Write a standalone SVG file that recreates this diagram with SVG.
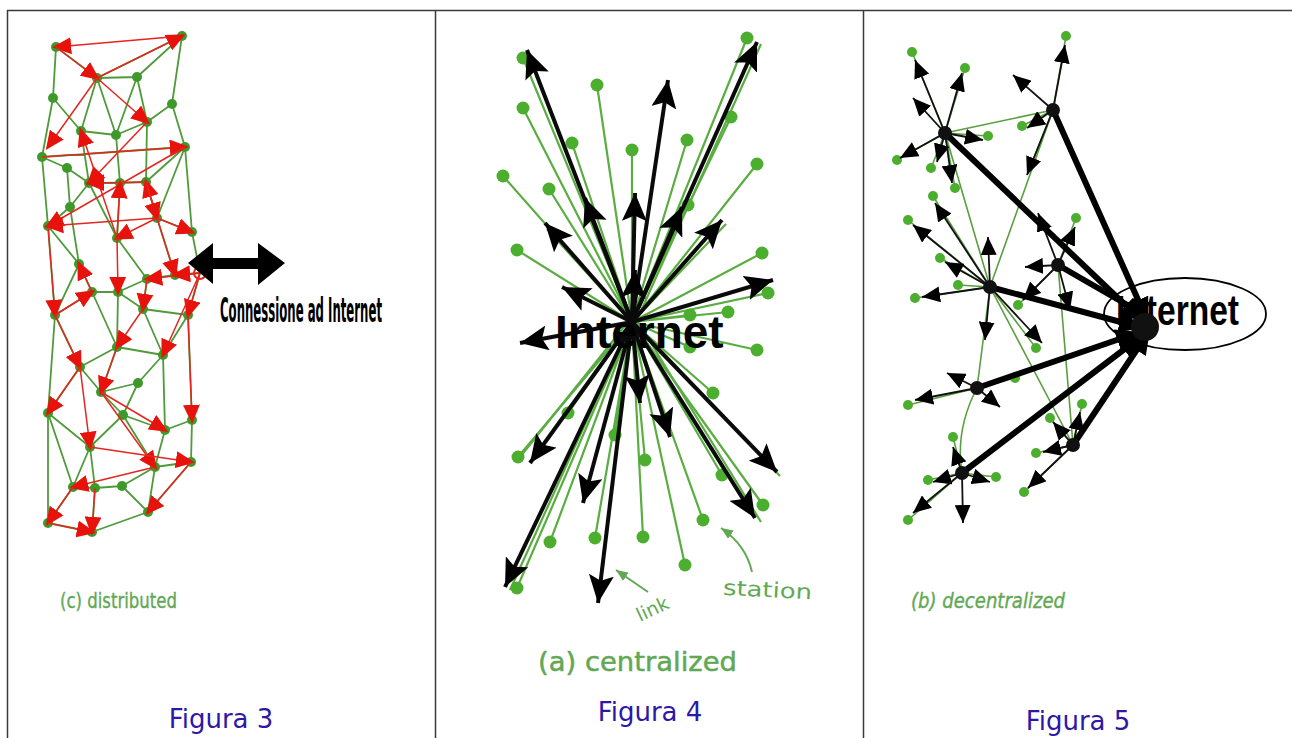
<svg xmlns="http://www.w3.org/2000/svg" width="1292" height="738" viewBox="0 0 1292 738">
<style>
.frame{stroke:#3a3a3a;stroke-width:1.5;fill:none}
.cap{font-family:"DejaVu Sans",Verdana,sans-serif;font-size:26px;fill:#2e18a6;text-anchor:middle}
.g1{stroke:#4f9a3a;stroke-width:1.8;fill:none}
.r1{stroke:#e3261f;stroke-width:1.5;fill:none;marker-end:url(#ar)}
.gn{fill:#3d9a2a}
.g2{stroke:#5aad40;stroke-width:2.2;fill:none}
.b2{stroke:#0a0a0a;stroke-width:4;fill:none;marker-end:url(#ab)}
.gn2{fill:#4cae2e}
.g3{stroke:#5a9e40;stroke-width:1.6;fill:none}
.b3{stroke:#111;stroke-width:1.8;fill:none;marker-end:url(#as)}
.t3{stroke:#000;stroke-width:6;fill:none;marker-end:url(#at)}
.hub{fill:#111}
.lbl{font-family:"DejaVu Sans",sans-serif;fill:#62a854}
.ptr{stroke:#62a854;stroke-width:2;fill:none;marker-end:url(#ag)}
</style>
<defs>
<marker id="ar" viewBox="0 0 10 10" refX="8" refY="5" markerWidth="19" markerHeight="17" markerUnits="userSpaceOnUse" orient="auto" preserveAspectRatio="none"><path d="M0,0L10,5L0,10z" fill="#e8120c"/></marker>
<marker id="ab" viewBox="0 0 10 10" refX="10" refY="5" markerWidth="28" markerHeight="25" markerUnits="userSpaceOnUse" orient="auto" preserveAspectRatio="none"><path d="M0,0L10,5L0,10L2,5z" fill="#000"/></marker>
<marker id="as" viewBox="0 0 10 10" refX="10" refY="5" markerWidth="18" markerHeight="16" markerUnits="userSpaceOnUse" orient="auto" preserveAspectRatio="none"><path d="M0,0L10,5L0,10z" fill="#000"/></marker>
<marker id="at" viewBox="0 0 10 10" refX="10" refY="5" markerWidth="24" markerHeight="22" markerUnits="userSpaceOnUse" orient="auto" preserveAspectRatio="none"><path d="M0,0L10,5L0,10z" fill="#000"/></marker>
<marker id="ag" viewBox="0 0 10 10" refX="10" refY="5" markerWidth="12" markerHeight="10" markerUnits="userSpaceOnUse" orient="auto" preserveAspectRatio="none"><path d="M0,0L10,5L0,10z" fill="#62a854"/></marker>
</defs>
<rect width="1292" height="738" fill="#fff"/>
<g id="table">
<path class="frame" d="M7 10.5H1292M7.5 10V738M435.5 10V738M863.5 10V738"/>
</g>

<g id="fig3">
<g id="fig3-links">
<path class="g1" d="M56 47L53 98M56 47L97 78M182 36L97 78M182 36L172 104M97 78L137 77M137 77L182 36M137 77L147 122M97 78L116 135M97 78L81 131M53 98L81 131M53 98L42 157M172 104L147 122M172 104L185 147M147 122L116 135M81 131L116 135M137 77L116 135M42 157L67 168M42 157L185 147M67 168L89 183M81 131L89 183M116 135L120 183M147 122L146 182M185 147L146 182M89 183L120 183M120 183L146 182M67 168L70 207M70 207L89 183M70 207L48 226M42 157L48 226M89 183L117 238M120 183L117 238M146 182L157 218M157 218L185 147M157 218L192 232M185 147L192 232M48 226L79 264M70 207L79 264M117 238L147 279M157 218L175 275M192 232L200 273M147 279L175 275M175 275L200 273M79 264L92 292M147 279L118 292M92 292L118 292M118 292L143 309M147 279L143 309M143 309L188 315M200 273L188 315M79 264L55 315M48 226L55 315M55 315L92 292M92 292L117 347M118 292L117 347M143 309L163 355M188 315L163 355M117 347L163 355M55 315L80 367M80 367L117 347M80 367L101 392M117 347L101 392M101 392L138 383M163 355L138 383M138 383L123 415M101 392L123 415M188 315L192 420M163 355L165 430M48 413L55 315M48 413L80 367M48 413L90 447M123 415L90 447M123 415L165 430M165 430L192 420M123 415L155 467M165 430L155 467M192 420L191 462M155 467L191 462M90 447L73 487M90 447L95 488M73 487L95 488M95 488L122 486M122 486L155 467M122 486L148 512M155 467L148 512M191 462L148 512M73 487L48 523M48 523L92 532M95 488L92 532M92 532L148 512M48 413L73 487M48 413L48 523"/>
</g>
<g id="fig3-nodes" class="gn">
<circle cx="56" cy="47" r="5"/><circle cx="182" cy="36" r="5"/><circle cx="97" cy="78" r="5"/><circle cx="137" cy="77" r="5"/><circle cx="53" cy="98" r="5"/><circle cx="172" cy="104" r="5"/><circle cx="147" cy="122" r="5"/><circle cx="81" cy="131" r="5"/><circle cx="116" cy="135" r="5"/><circle cx="42" cy="157" r="5"/><circle cx="185" cy="147" r="5"/><circle cx="67" cy="168" r="5"/><circle cx="89" cy="183" r="5"/><circle cx="120" cy="183" r="5"/><circle cx="146" cy="182" r="5"/><circle cx="70" cy="207" r="5"/><circle cx="48" cy="226" r="5"/><circle cx="117" cy="238" r="5"/><circle cx="157" cy="218" r="5"/><circle cx="192" cy="232" r="5"/><circle cx="79" cy="264" r="5"/><circle cx="147" cy="279" r="5"/><circle cx="175" cy="275" r="5"/><circle cx="92" cy="292" r="5"/><circle cx="118" cy="292" r="5"/><circle cx="143" cy="309" r="5"/><circle cx="55" cy="315" r="5"/><circle cx="188" cy="315" r="5"/><circle cx="117" cy="347" r="5"/><circle cx="163" cy="355" r="5"/><circle cx="80" cy="367" r="5"/><circle cx="101" cy="392" r="5"/><circle cx="138" cy="383" r="5"/><circle cx="48" cy="413" r="5"/><circle cx="123" cy="415" r="5"/><circle cx="165" cy="430" r="5"/><circle cx="192" cy="420" r="5"/><circle cx="90" cy="447" r="5"/><circle cx="155" cy="467" r="5"/><circle cx="191" cy="462" r="5"/><circle cx="73" cy="487" r="5"/><circle cx="95" cy="488" r="5"/><circle cx="122" cy="486" r="5"/><circle cx="148" cy="512" r="5"/><circle cx="48" cy="523" r="5"/><circle cx="92" cy="532" r="5"/>
</g>
<g id="fig3-arrows">
<path class="r1" d="M182 36L56 47"/><path class="r1" d="M97 78L182 36"/><path class="r1" d="M56 47L97 78"/><path class="r1" d="M97 78L147 122"/><path class="r1" d="M97 78L48 147"/><path class="r1" d="M42 157L185 147"/><path class="r1" d="M185 147L48 226"/><path class="r1" d="M117 238L81 131"/><path class="r1" d="M147 122L89 183"/><path class="r1" d="M117 238L120 183"/><path class="r1" d="M157 218L146 182"/><path class="r1" d="M146 182L89 183"/><path class="r1" d="M157 218L48 226"/><path class="r1" d="M157 218L117 238"/><path class="r1" d="M146 182L157 218"/><path class="r1" d="M157 218L192 232"/><path class="r1" d="M92 292L79 264"/><path class="r1" d="M200 273L147 279"/><path class="r1" d="M200 273L175 275"/><path class="r1" d="M157 218L175 275"/><path class="r1" d="M117 238L118 292"/><path class="r1" d="M147 279L143 309"/><path class="r1" d="M143 309L117 347"/><path class="r1" d="M48 226L55 315"/><path class="r1" d="M200 273L188 315"/><path class="r1" d="M200 273L163 355"/><path class="r1" d="M55 315L80 367"/><path class="r1" d="M117 347L101 392"/><path class="r1" d="M101 392L165 430"/><path class="r1" d="M188 315L192 420"/><path class="r1" d="M80 367L90 447"/><path class="r1" d="M101 392L155 467"/><path class="r1" d="M90 447L191 462"/><path class="r1" d="M155 467L73 487"/><path class="r1" d="M191 462L148 512"/><path class="r1" d="M73 487L48 523"/><path class="r1" d="M48 523L92 532"/><path class="r1" d="M95 488L92 532"/><path class="r1" d="M80 367L48 413"/><path class="r1" d="M55 315L92 292"/>
<circle cx="200" cy="273" r="6" fill="none" stroke="#e3261f" stroke-width="2"/>
</g>
<g id="internet-connection">
<path d="M188 263L213 243L213 258L258 258L258 243L285 263L258 285L258 269L213 269L213 284Z" fill="#000"/>
<text x="220" y="322" font-family="'DejaVu Sans Condensed','DejaVu Sans',sans-serif" font-weight="bold" font-size="33" textLength="162" lengthAdjust="spacingAndGlyphs" fill="#000">Connessione ad Internet</text>
</g>
<text class="lbl" x="60" y="608" font-size="22" font-family="'DejaVu Sans Condensed',sans-serif" stroke="#62a854" stroke-width="0.4" textLength="117" lengthAdjust="spacingAndGlyphs">(c) distributed</text>
<text class="cap" x="221" y="728">Figura 3</text>
</g>

<g id="fig4">
<g id="fig4-links" class="g2">
<path d="M632 322L747 38M632 322L523 58M632 322L597 85M632 322L523 108M632 322L731 117M632 322L572 143M632 322L632 150M632 322L687 140M632 322L503 176M632 322L549 189M632 322L757 164M632 322L688 205M632 322L517 250M632 322L762 253M632 322L768 293M632 322L728 312M632 322L690 315M632 322L757 350M632 322L690 347M632 322L713 393M632 322L568 413M632 322L615 435M632 322L518 457M632 322L645 460M632 322L722 475M632 322L763 505M632 322L550 542M632 322L595 538M632 322L643 537M632 322L703 520M632 322L685 565M632 322L517 588"/>
<path d="M636 322L761 44M628 322L516 462M630 325L510 590M638 322L761 522M634 322L780 476M628 318L547 229M636 318L726 224"/>
</g>
<g id="fig4-stations" class="gn2">
<circle cx="747" cy="38" r="6.5"/><circle cx="523" cy="58" r="6.5"/><circle cx="597" cy="85" r="6.5"/><circle cx="523" cy="108" r="6.5"/><circle cx="731" cy="117" r="6.5"/><circle cx="572" cy="143" r="6.5"/><circle cx="632" cy="150" r="6.5"/><circle cx="687" cy="140" r="6.5"/><circle cx="503" cy="176" r="6.5"/><circle cx="549" cy="189" r="6.5"/><circle cx="757" cy="164" r="6.5"/><circle cx="688" cy="205" r="6.5"/><circle cx="517" cy="250" r="6.5"/><circle cx="762" cy="253" r="6.5"/><circle cx="768" cy="293" r="6.5"/><circle cx="728" cy="312" r="6.5"/><circle cx="690" cy="315" r="6.5"/><circle cx="757" cy="350" r="6.5"/><circle cx="690" cy="347" r="6.5"/><circle cx="713" cy="393" r="6.5"/><circle cx="568" cy="413" r="6.5"/><circle cx="615" cy="435" r="6.5"/><circle cx="518" cy="457" r="6.5"/><circle cx="645" cy="460" r="6.5"/><circle cx="722" cy="475" r="6.5"/><circle cx="763" cy="505" r="6.5"/><circle cx="550" cy="542" r="6.5"/><circle cx="595" cy="538" r="6.5"/><circle cx="643" cy="537" r="6.5"/><circle cx="703" cy="520" r="6.5"/><circle cx="685" cy="565" r="6.5"/><circle cx="517" cy="588" r="6.5"/>
</g>
<g id="fig4-arrows">
<path class="b2" d="M632 322L527 50"/><path class="b2" d="M632 322L668 80"/><path class="b2" d="M632 322L757 42"/><path class="b2" d="M632 322L585 198"/><path class="b2" d="M632 322L635 193"/><path class="b2" d="M632 322L682 207"/><path class="b2" d="M632 322L545 223"/><path class="b2" d="M632 322L722 220"/><path class="b2" d="M632 322L562 287"/><path class="b2" d="M632 322L773 280"/><path class="b2" d="M632 322L635 270"/><path class="b2" d="M632 322L520 343"/><path class="b2" d="M632 322L505 587"/><path class="b2" d="M632 322L598 603"/><path class="b2" d="M632 322L530 463"/><path class="b2" d="M632 322L583 503"/><path class="b2" d="M632 322L640 403"/><path class="b2" d="M632 322L670 437"/><path class="b2" d="M632 322L755 518"/><path class="b2" d="M632 322L777 472"/>
</g>
<text x="555" y="348" font-family="'Liberation Sans',Arial,sans-serif" font-weight="bold" font-size="46" fill="#000">Internet</text>
<g id="fig4-labels">
<path class="ptr" d="M648 592L616 570"/>
<path class="ptr" d="M752 572Q746 545 721 528"/>
<text class="lbl" x="0" y="0" font-size="19" transform="translate(640 622) rotate(-25)">link</text>
<text class="lbl" x="723" y="597" font-size="21" textLength="89" lengthAdjust="spacingAndGlyphs" transform="rotate(3 767 590)">station</text>
<text class="lbl" x="538" y="671" font-size="27" stroke="#62a854" stroke-width="0.5" textLength="199" lengthAdjust="spacingAndGlyphs">(a) centralized</text>
</g>
<text class="cap" x="650" y="721">Figura 4</text>
</g>

<g id="fig5">
<ellipse cx="1185" cy="314" rx="81" ry="36" fill="none" stroke="#000" stroke-width="1.8"/>
<text x="1116" y="325" font-family="'Liberation Sans',Arial,sans-serif" font-weight="bold" font-size="42" textLength="123" lengthAdjust="spacingAndGlyphs" fill="#000">Internet</text>
<g id="fig5-links" class="g3">
<path d="M945 133L1053 110M1053 110L990 287M945 133L990 287M990 287L977 388M990 287L1073 445M977 388Q955 430 962 473M1058 265L1073 445M1053 110L1027 175"/>
<path d="M945 133L912 52M945 133L965 68M945 133L988 136M945 133L897 160M945 133L931 168M945 133L955 188M1053 110L1066 36M1053 110L1022 126M990 287L933 196M990 287L908 220M990 287L940 258M990 287L915 298M990 287L958 285M990 287L1036 348M1058 265L1076 218M1058 265L1018 305M977 388L908 405M977 388L1015 378M1073 445L1082 404M1073 445L1050 418M1073 445L1036 453M1073 445L1024 492M962 473L953 437M962 473L928 480M962 473L996 477M962 473L908 520"/>
</g>
<g id="fig5-leaves" class="gn2">
<circle cx="912" cy="52" r="5"/><circle cx="965" cy="68" r="5"/><circle cx="988" cy="136" r="5"/><circle cx="897" cy="160" r="5"/><circle cx="931" cy="168" r="5"/><circle cx="955" cy="188" r="5"/><circle cx="1066" cy="36" r="5"/><circle cx="1022" cy="126" r="5"/><circle cx="933" cy="196" r="5"/><circle cx="908" cy="220" r="5"/><circle cx="940" cy="258" r="5"/><circle cx="915" cy="298" r="5"/><circle cx="958" cy="285" r="5"/><circle cx="1036" cy="348" r="5"/><circle cx="1076" cy="218" r="5"/><circle cx="1018" cy="305" r="5"/><circle cx="908" cy="405" r="5"/><circle cx="1015" cy="378" r="5"/><circle cx="1082" cy="404" r="5"/><circle cx="1050" cy="418" r="5"/><circle cx="1036" cy="453" r="5"/><circle cx="1024" cy="492" r="5"/><circle cx="953" cy="437" r="5"/><circle cx="928" cy="480" r="5"/><circle cx="996" cy="477" r="5"/><circle cx="908" cy="520" r="5"/>
</g>
<g id="fig5-arrows">
<path class="b3" d="M945 133L915 60"/><path class="b3" d="M945 133L962 73"/><path class="b3" d="M945 133L913 98"/><path class="b3" d="M945 133L983 140"/><path class="b3" d="M945 133L900 158"/><path class="b3" d="M945 133L937 162"/><path class="b3" d="M945 133L952 183"/>
<path class="b3" d="M1053 110L1065 45"/><path class="b3" d="M1053 110L1013 75"/><path class="b3" d="M1053 110L1027 128"/><path class="b3" d="M1053 110L1027 175"/>
<path class="b3" d="M990 287L935 203"/><path class="b3" d="M990 287L913 225"/><path class="b3" d="M990 287L988 237"/><path class="b3" d="M990 287L945 262"/><path class="b3" d="M990 287L922 297"/><path class="b3" d="M990 287L985 340"/><path class="b3" d="M990 287L1042 343"/>
<path class="b3" d="M1058 265L1038 213"/><path class="b3" d="M1058 265L1075 227"/><path class="b3" d="M1058 265L1025 267"/><path class="b3" d="M1058 265L1023 300"/><path class="b3" d="M1058 265L1070 310"/>
<path class="b3" d="M977 388L947 373"/><path class="b3" d="M977 388L915 400"/><path class="b3" d="M977 388L1000 407"/>
<path class="b3" d="M1073 445L1080 412"/><path class="b3" d="M1073 445L1053 422"/><path class="b3" d="M1073 445L1043 452"/><path class="b3" d="M1073 445L1028 488"/>
<path class="b3" d="M962 473L953 447"/><path class="b3" d="M962 473L933 482"/><path class="b3" d="M962 473L990 482"/><path class="b3" d="M962 473L913 513"/><path class="b3" d="M962 473L963 523"/>
<path class="t3" d="M945 133L1143 322"/><path class="t3" d="M1053 110L1148 322"/><path class="t3" d="M990 287L1143 328"/><path class="t3" d="M1058 265L1150 318"/><path class="t3" d="M977 388L1140 332"/><path class="t3" d="M1073 445L1150 330"/><path class="t3" d="M962 473L1143 335"/>
</g>
<g id="fig5-hubs" class="hub">
<circle cx="945" cy="133" r="7"/><circle cx="1053" cy="110" r="7"/><circle cx="990" cy="287" r="7"/><circle cx="1058" cy="265" r="7"/><circle cx="977" cy="388" r="7"/><circle cx="1073" cy="445" r="7"/><circle cx="962" cy="473" r="7"/><circle cx="1145" cy="327" r="14"/>
</g>
<text class="lbl" x="911" y="608" font-size="22" font-style="italic" font-family="'DejaVu Sans Condensed',sans-serif" stroke="#62a854" stroke-width="0.4" textLength="154" lengthAdjust="spacingAndGlyphs">(b) decentralized</text>
<text class="cap" x="1078" y="730">Figura 5</text>
</g>
</svg>
